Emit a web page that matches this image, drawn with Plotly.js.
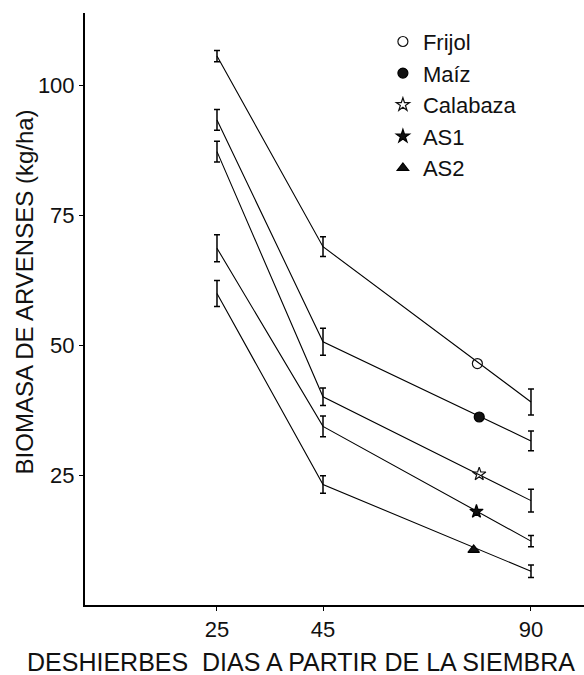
<!DOCTYPE html>
<html>
<head>
<meta charset="utf-8">
<script src="https://cdn.plot.ly/plotly-3.0.1.min.js"></script>
<style>html,body{margin:0;padding:0;background:#fff;}#chart{width:584px;height:675px;}</style>
</head>
<body>
<div id="chart"></div>
<script>
// ---- data ----
const days = [25, 45, 90];
const dayLabels = ['25', '45', '90'];
const seriesNames = ['Frijol', 'Maíz', 'Calabaza', 'AS1', 'AS2'];
const frijol   = [105.7, 69.0, 39.1];
const maiz     = [93.4, 50.7, 31.6];
const calabaza = [87.3, 40.1, 20.1];
const as1      = [68.7, 34.4, 12.3];
const as2      = [60.0, 23.2, 6.5];
const frijolErr   = [1.1, 1.9, 2.5];
const maizErr     = [2.0, 2.6, 1.9];
const calabazaErr = [2.0, 1.7, 2.2];
const as1Err      = [2.6, 2.0, 1.1];
const as2Err      = [2.5, 1.7, 1.2];
// identifying symbol placed on each line, between day 45 and day 90
const markerDay    = [78.4, 78.8, 78.8, 78.2, 77.6];
const markerValue  = [46.5, 36.2, 25.2, 18.0, 10.6];
const xTitle = 'DESHIERBES  DIAS A PARTIR DE LA SIEMBRA';
const yTitle = 'BIOMASA DE ARVENSES (kg/ha)';

// ---- irregular (piecewise) day axis of the original figure ----
function xpos(d) {
  return d <= 45 ? (d - 25) / 20 : 1 + (d - 45) / 45 * 1.962;
}

const values = [frijol, maiz, calabaza, as1, as2];
const errs = [frijolErr, maizErr, calabazaErr, as1Err, as2Err];
const symbols = ['circle-open', 'circle', 'star-open', 'star', 'triangle-up'];
const FONT = '"Liberation Sans", Arial, sans-serif';

const traces = [];
values.forEach((v, i) => {
  traces.push({
    type: 'scatter', mode: 'lines',
    x: days.map(xpos), y: v,
    line: {color: '#000', width: 1.1},
    error_y: {type: 'data', array: errs[i], visible: true, color: '#000', thickness: 1.5, width: 3},
    showlegend: false, hoverinfo: 'skip'
  });
});
values.forEach((v, i) => {
  traces.push({
    type: 'scatter', mode: 'markers',
    x: [xpos(markerDay[i])], y: [markerValue[i]],
    name: seriesNames[i],
    marker: {symbol: symbols[i], size: 10, color: '#111',
             line: {color: '#000', width: 1.2}},
    cliponaxis: false
  });
});

const layout = {
  width: 584, height: 675,
  margin: {l: 85, r: 0, t: 13, b: 70},
  paper_bgcolor: '#fff', plot_bgcolor: '#fff',
  font: {family: FONT, size: 22, color: '#111'},
  showlegend: true,
  legend: {x: 0.597, y: 0.987, xanchor: 'left', yanchor: 'top', bgcolor: 'rgba(0,0,0,0)',
           font: {family: FONT, size: 22, color: '#111'}, tracegroupgap: 0, itemwidth: 30},
  xaxis: {
    range: [-1.245, 3.462], showgrid: false, zeroline: false,
    showline: true, linecolor: '#000', linewidth: 1.5,
    ticks: 'outside', ticklen: 4, tickcolor: '#000',
    tickvals: days.map(xpos), ticktext: dayLabels,
    tickfont: {family: FONT, size: 22, color: '#111'},
    ticklabelstandoff: 0
  },
  yaxis: {
    range: [0, 114], showgrid: false, zeroline: false,
    showline: true, linecolor: '#000', linewidth: 2,
    ticks: 'outside', ticklen: 4, tickcolor: '#000',
    tickvals: [25, 50, 75, 100],
    tickfont: {family: FONT, size: 22, color: '#111'}
  },
  annotations: [
    {text: xTitle, xref: 'paper', yref: 'paper', x: 0.433, y: -0.0963,
     xanchor: 'center', yanchor: 'middle', showarrow: false,
     font: {family: FONT, size: 25, color: '#111'}},
    {text: yTitle, xref: 'paper', yref: 'paper', x: -0.1222, y: 0.528,
     xanchor: 'center', yanchor: 'middle', showarrow: false, textangle: -90,
     font: {family: FONT, size: 24, color: '#111'}}
  ]
};

Plotly.newPlot('chart', traces, layout, {staticPlot: true, displayModeBar: false});
</script>
</body>
</html>
